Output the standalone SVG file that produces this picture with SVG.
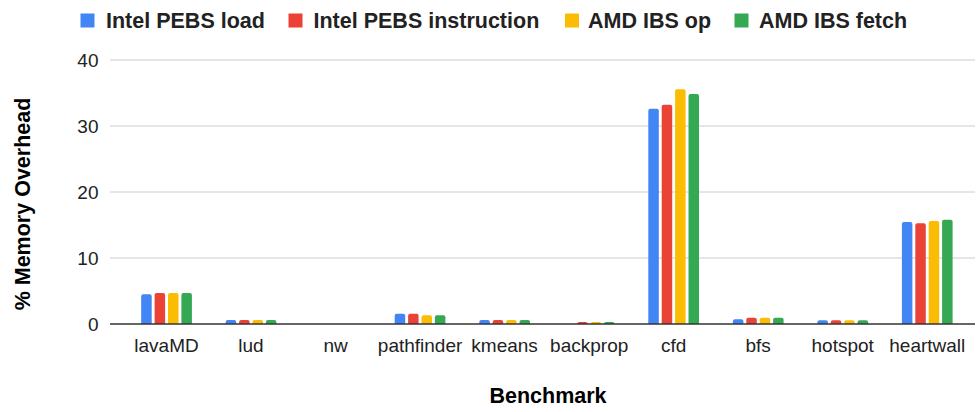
<svg xmlns="http://www.w3.org/2000/svg" width="978" height="412" viewBox="0 0 978 412">
<style>
.bg{fill:#ffffff}
.grid{stroke:#cccccc;stroke-width:1}
.axis{stroke:#333333;stroke-width:1.5}
.tick{font-family:"Liberation Sans",Arial,sans-serif;font-size:19px;fill:#222222}
.ytick{text-anchor:end}
.xtick{text-anchor:middle}
.title{font-family:"Liberation Sans",Arial,sans-serif;font-size:21.5px;font-weight:bold;fill:#000000}
.leg{font-family:"Liberation Sans",Arial,sans-serif;font-size:21.5px;font-weight:bold;fill:#222222}
.b{fill:#4285F4}
.r{fill:#EA4335}
.y{fill:#FBBC04}
.g{fill:#34A853}
</style>
<rect class="bg" x="0" y="0" width="978" height="412"/>

<g id="legend">
<rect class="b" x="80.5" y="13.5" width="14" height="14"/>
<text class="leg" x="106" y="28">Intel PEBS load</text>
<rect class="r" x="288.5" y="13.5" width="14" height="14"/>
<text class="leg" x="313.5" y="28">Intel PEBS instruction</text>
<rect class="y" x="565" y="13.5" width="14" height="14"/>
<text class="leg" x="588" y="28">AMD IBS op</text>
<rect class="g" x="734.5" y="13.5" width="14" height="14"/>
<text class="leg" x="759" y="28">AMD IBS fetch</text>
</g>

<g id="grid">
<line class="grid" x1="110" y1="60" x2="975" y2="60"/>
<line class="grid" x1="110" y1="126" x2="975" y2="126"/>
<line class="grid" x1="110" y1="192" x2="975" y2="192"/>
<line class="grid" x1="110" y1="258" x2="975" y2="258"/>
</g>

<g id="y-axis">
<text class="tick ytick" x="98.5" y="67">40</text>
<text class="tick ytick" x="98.5" y="133">30</text>
<text class="tick ytick" x="98.5" y="199">20</text>
<text class="tick ytick" x="98.5" y="265">10</text>
<text class="tick ytick" x="98.5" y="331">0</text>
<text class="title" transform="translate(30,204) rotate(-90)" text-anchor="middle">% Memory Overhead</text>
</g>

<g id="lavaMD">
<path class="b" d="M141.2 324V296.3Q141.2 294.3 143.2 294.3H149.7Q151.7 294.3 151.7 296.3V324Z"/>
<path class="r" d="M154.6 324V295Q154.6 293 156.6 293H163.1Q165.1 293 165.1 295V324Z"/>
<path class="y" d="M168 324V295Q168 293 170 293H176.5Q178.5 293 178.5 295V324Z"/>
<path class="g" d="M181.4 324V295Q181.4 293 183.4 293H189.9Q191.9 293 191.9 295V324Z"/>
<text class="tick xtick" x="166.5" y="352">lavaMD</text>
</g>

<g id="lud">
<path class="b" d="M225.7 324V322Q225.7 320 227.7 320H234.2Q236.2 320 236.2 322V324Z"/>
<path class="r" d="M239.1 324V322Q239.1 320 241.1 320H247.6Q249.6 320 249.6 322V324Z"/>
<path class="y" d="M252.5 324V322Q252.5 320 254.5 320H261Q263 320 263 322V324Z"/>
<path class="g" d="M265.9 324V322Q265.9 320 267.9 320H274.4Q276.4 320 276.4 322V324Z"/>
<text class="tick xtick" x="251" y="352">lud</text>
</g>

<g id="nw">
<text class="tick xtick" x="335.6" y="352">nw</text>
</g>

<g id="pathfinder">
<path class="b" d="M394.7 324V315.7Q394.7 313.7 396.7 313.7H403.2Q405.2 313.7 405.2 315.7V324Z"/>
<path class="r" d="M408.1 324V315.7Q408.1 313.7 410.1 313.7H416.6Q418.6 313.7 418.6 315.7V324Z"/>
<path class="y" d="M421.5 324V317.3Q421.5 315.3 423.5 315.3H430Q432 315.3 432 317.3V324Z"/>
<path class="g" d="M434.9 324V317.3Q434.9 315.3 436.9 315.3H443.4Q445.4 315.3 445.4 317.3V324Z"/>
<text class="tick xtick" x="420.1" y="352">pathfinder</text>
</g>

<g id="kmeans">
<path class="b" d="M479.3 324V322Q479.3 320 481.3 320H487.8Q489.8 320 489.8 322V324Z"/>
<path class="r" d="M492.7 324V322Q492.7 320 494.7 320H501.2Q503.2 320 503.2 322V324Z"/>
<path class="y" d="M506.1 324V322Q506.1 320 508.1 320H514.6Q516.6 320 516.6 322V324Z"/>
<path class="g" d="M519.5 324V322Q519.5 320 521.5 320H528Q530 320 530 322V324Z"/>
<text class="tick xtick" x="504.6" y="352">kmeans</text>
</g>

<g id="backprop">
<path class="r" d="M577.2 324Q577.2 322 579.2 322H585.7Q587.7 322 587.7 324Z"/>
<path class="y" d="M590.6 324Q590.6 322 592.6 322H599.1Q601.1 322 601.1 324Z"/>
<path class="g" d="M604 324Q604 322 606 322H612.5Q614.5 322 614.5 324Z"/>
<text class="tick xtick" x="589.2" y="352">backprop</text>
</g>

<g id="cfd">
<path class="b" d="M648.3 324V110.7Q648.3 108.7 650.3 108.7H656.8Q658.8 108.7 658.8 110.7V324Z"/>
<path class="r" d="M661.7 324V106.7Q661.7 104.7 663.7 104.7H670.2Q672.2 104.7 672.2 106.7V324Z"/>
<path class="y" d="M675.1 324V91.3Q675.1 89.3 677.1 89.3H683.6Q685.6 89.3 685.6 91.3V324Z"/>
<path class="g" d="M688.5 324V96Q688.5 94 690.5 94H697Q699 94 699 96V324Z"/>
<text class="tick xtick" x="673.7" y="352">cfd</text>
</g>

<g id="bfs">
<path class="b" d="M732.9 324V321.3Q732.9 319.3 734.9 319.3H741.4Q743.4 319.3 743.4 321.3V324Z"/>
<path class="r" d="M746.3 324V319.7Q746.3 317.7 748.3 317.7H754.8Q756.8 317.7 756.8 319.7V324Z"/>
<path class="y" d="M759.7 324V319.7Q759.7 317.7 761.7 317.7H768.2Q770.2 317.7 770.2 319.7V324Z"/>
<path class="g" d="M773.1 324V319.7Q773.1 317.7 775.1 317.7H781.6Q783.6 317.7 783.6 319.7V324Z"/>
<text class="tick xtick" x="758.2" y="352">bfs</text>
</g>

<g id="hotspot">
<path class="b" d="M817.4 324V322.3Q817.4 320.3 819.4 320.3H825.9Q827.9 320.3 827.9 322.3V324Z"/>
<path class="r" d="M830.8 324V322.3Q830.8 320.3 832.8 320.3H839.3Q841.3 320.3 841.3 322.3V324Z"/>
<path class="y" d="M844.2 324V322.3Q844.2 320.3 846.2 320.3H852.7Q854.7 320.3 854.7 322.3V324Z"/>
<path class="g" d="M857.6 324V322.3Q857.6 320.3 859.6 320.3H866.1Q868.1 320.3 868.1 322.3V324Z"/>
<text class="tick xtick" x="842.7" y="352">hotspot</text>
</g>

<g id="heartwall">
<path class="b" d="M901.9 324V224Q901.9 222 903.9 222H910.4Q912.4 222 912.4 224V324Z"/>
<path class="r" d="M915.3 324V225.3Q915.3 223.3 917.3 223.3H923.8Q925.8 223.3 925.8 225.3V324Z"/>
<path class="y" d="M928.7 324V223Q928.7 221 930.7 221H937.2Q939.2 221 939.2 223V324Z"/>
<path class="g" d="M942.1 324V221.7Q942.1 219.7 944.1 219.7H950.6Q952.6 219.7 952.6 221.7V324Z"/>
<text class="tick xtick" x="927.3" y="352">heartwall</text>
</g>

<g id="x-axis">
<line class="axis" x1="110" y1="324" x2="975" y2="324"/>
<text class="title" x="548" y="403" text-anchor="middle">Benchmark</text>
</g>
<g id="connectors"/>
</svg>
